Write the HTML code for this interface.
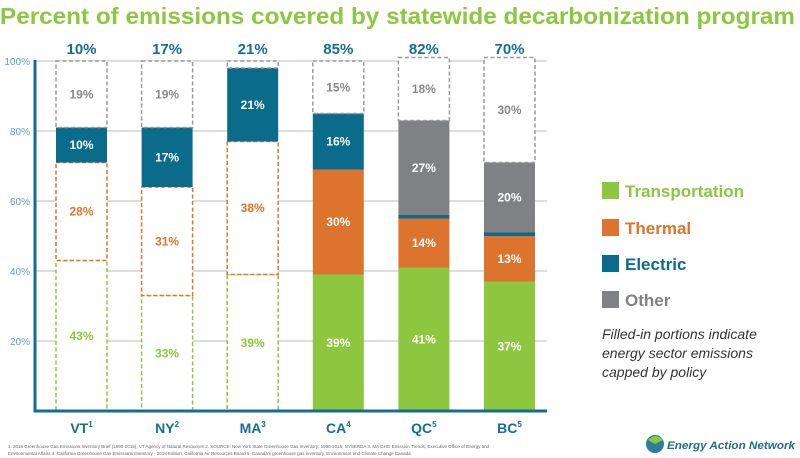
<!DOCTYPE html>
<html><head><meta charset="utf-8"><style>
html,body{margin:0;padding:0;background:#fff;}
svg{display:block;font-family:"Liberation Sans",sans-serif;}
</style></head><body>
<svg id="chart" width="800" height="458" viewBox="0 0 800 458">
<text x="0" y="24" font-size="23" font-weight="bold" fill="#8dc63f" textLength="795" lengthAdjust="spacingAndGlyphs">Percent of emissions covered by statewide decarbonization program</text>
<g id="grid"></g>
<g id="bars"></g>
<g id="legend"></g>
<text x="8" y="448" font-size="4.5" fill="#666">1. 2016 Greenhouse Gas Emissions Inventory Brief (1990-2015), VT Agency of Natural Resources 2. SOURCE: New York State Greenhouse Gas Inventory: 1990-2015, NYSERDA 3. MA GHG Emission Trends, Executive Office of Energy and</text>
<text x="8" y="455" font-size="4.5" fill="#666">Environmental Affairs 4. California Greenhouse Gas Emissions Inventory - 2018 Edition, California Air Resources Board 5. Canada's greenhouse gas inventory, Environment and Climate Change Canada</text>
<g>
<circle cx="655" cy="444" r="9" fill="#2a7fa0"/>
<path d="M648 440 Q655 432 663 440 L655 444Z" fill="#8dc63f"/>
<text x="667" y="449" font-size="11" font-weight="bold" font-style="italic" fill="#1d6c8b" textLength="128" lengthAdjust="spacingAndGlyphs">Energy Action Network</text>
</g>
</svg>
<script>
const categories = ["VT","NY","MA","CA","QC","BC"];
const supers = ["1","2","3","4","5","5"];
const totals = ["10%","17%","21%","85%","82%","70%"];
const transportation = [43,33,39,39,41,37];
const thermal = [28,31,38,30,14,13];
const electric = [10,17,21,16,1,1];
const otherFilled = [0,0,0,0,27,20];
const otherOpen = [19,19,2,15,18,30];
const transFilled = [false,false,false,true,true,true];
const thermFilled = [false,false,false,true,true,true];
const elecFilled = [true,true,true,true,true,true];
const yTicks = [20,40,60,80,100];

const NS="http://www.w3.org/2000/svg";
const C={t:"#8dc63f",h:"#dd742d",e:"#0a6b8a",o:"#808184",og:"#999"};
const y=v=>411-v*3.5;
const x0=56, step=85.6, bw=51;
const xc=i=>x0+i*step;
function mk(tag,attrs,parent){const el=document.createElementNS(NS,tag);for(const k in attrs)el.setAttribute(k,attrs[k]);parent.appendChild(el);return el;}
const grid=document.getElementById('grid'), bars=document.getElementById('bars'), leg=document.getElementById('legend');

yTicks.forEach(t=>{
  const l=mk('line',{x1:35,x2:547,y1:y(t),y2:y(t),stroke:'#bbb','stroke-width':1},grid);
  
  
  const tx=mk('text',{x:30,y:y(t)+4,'font-size':10,fill:'#5aa0bd','text-anchor':'end'},grid);
  tx.textContent=t+'%';
  
  
});

function seg(i,bot,val,color,filled,labelColor,name){
  if(val<=0)return;
  const top=bot+val;
  const r=mk('rect',{x:xc(i),y:y(top),width:bw,height:y(bot)-y(top)},bars);
  if(filled){r.setAttribute('fill',color);}
  else{r.setAttribute('fill','#fff');r.setAttribute('stroke',color);r.setAttribute('stroke-width',1.5);r.setAttribute('stroke-dasharray','4,2.5');}
  
  
  if(val>=5){
    const t=mk('text',{x:xc(i)+bw/2,y:(y(top)+y(bot))/2+4,'font-size':12,'font-weight':'bold','text-anchor':'middle',fill:filled?'#fff':labelColor},bars);
    t.textContent=val+'%';
    
    
  }
}
categories.forEach((c,i)=>{
  let b=0;
  seg(i,b,transportation[i],C.t,transFilled[i],C.t,'transportation');b+=transportation[i];
  seg(i,b,thermal[i],C.h,thermFilled[i],C.h,'thermal');b+=thermal[i];
  seg(i,b,electric[i],C.e,elecFilled[i],C.e,'electric');b+=electric[i];
  seg(i,b,otherFilled[i],C.o,true,C.o,'other-filled');b+=otherFilled[i];
  seg(i,b,otherOpen[i],C.og,false,'#888','other');
  const tt=mk('text',{x:xc(i)+bw/2,y:54,'font-size':15,'font-weight':'bold','text-anchor':'middle',fill:'#146f8f'},bars);
  tt.textContent=totals[i];
  
  
  const cl=mk('text',{x:xc(i)+bw/2,y:433,'font-size':14,'font-weight':'bold','text-anchor':'middle',fill:'#146f8f'},bars);
  cl.textContent=c;
  const sp=mk('tspan',{'font-size':8,dy:-6},cl);sp.textContent=supers[i];
  
  
});
const ax=mk('path',{d:'M35 60 V411 H547',fill:'none',stroke:'#146f8f','stroke-width':3},bars);



const legItems=[["Transportation",C.t,191],["Thermal",C.h,228],["Electric",C.e,264],["Other",C.o,300]];
legItems.forEach(([n,col,cy])=>{
  const s=mk('rect',{x:602,y:cy-9,width:17,height:17,fill:col},leg);
  
  
  const t=mk('text',{x:625,y:cy+6,'font-size':17,'font-weight':'bold',fill:col},leg);
  t.textContent=n;
  
  
});
["Filled-in portions indicate","energy sector emissions","capped by policy"].forEach((s,k)=>{
  const t=mk('text',{x:602,y:339+k*19,'font-size':14,'font-style':'italic',fill:'#333'},leg);
  t.textContent=s;
  
  
});
</script>
</body></html>
